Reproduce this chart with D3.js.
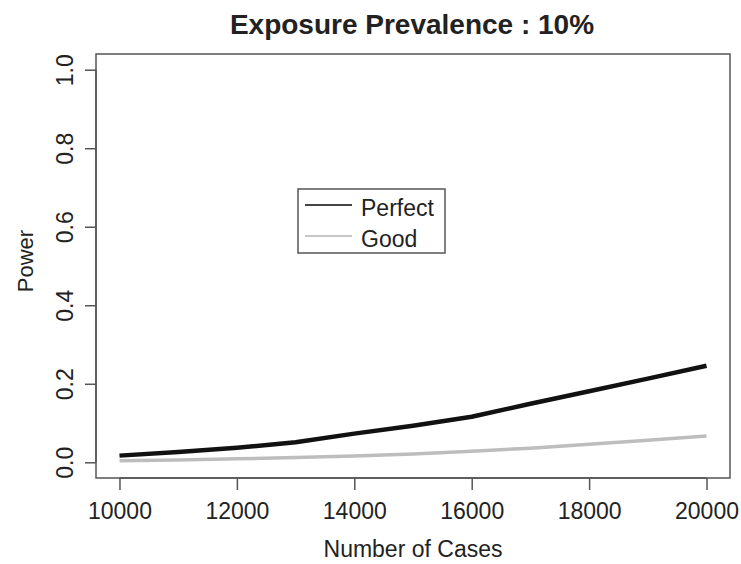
<!DOCTYPE html>
<html>
<head>
<meta charset="utf-8">
<script src="https://cdn.jsdelivr.net/npm/d3@7"></script>
<style>
  html, body { margin: 0; padding: 0; background: #fff; }
  svg text { font-family: "Liberation Sans", Arial, Helvetica, sans-serif; fill: #222; }
</style>
</head>
<body>
<svg id="chart"></svg>
<script>
// data
var cases = [10000, 11000, 12000, 13000, 14000, 15000, 16000, 17000, 18000, 19000, 20000];
var perfect = [0.017, 0.026, 0.037, 0.051, 0.073, 0.093, 0.116, 0.149, 0.181, 0.213, 0.246];
var good = [0.004, 0.006, 0.009, 0.012, 0.016, 0.021, 0.028, 0.036, 0.046, 0.056, 0.067];
var xTicks = [10000, 12000, 14000, 16000, 18000, 20000];
var yTicks = [0.0, 0.2, 0.4, 0.6, 0.8, 1.0];
var seriesNames = ["Perfect", "Good"];
var seriesColors = ["#111111", "#bdbdbd"];

var width = 741, height = 564;
var box = { left: 96, right: 730, top: 54, bottom: 478 };
var fontSize = "23px";

var svg = d3.select("#chart").attr("width", width).attr("height", height);

// R style: pad range 4% each side
var x = d3.scaleLinear()
    .domain([10000 - 400, 20000 + 400])
    .range([box.left, box.right]);
var y = d3.scaleLinear()
    .domain([-0.04, 1.04])
    .range([box.bottom, box.top]);

var axisColor = "#555";

// plot frame
svg.append("rect")
    .attr("x", box.left)
    .attr("y", box.top)
    .attr("width", box.right - box.left)
    .attr("height", box.bottom - box.top)
    .attr("fill", "none")
    .attr("stroke", axisColor)
    .attr("stroke-width", 1.5);

// x axis
var xAxis = svg.append("g")
    .attr("transform", "translate(0," + box.bottom + ")")
    .call(d3.axisBottom(x).tickValues(xTicks).tickSize(12).tickFormat(d3.format("d")));
xAxis.select(".domain")
    .attr("d", "M" + x(xTicks[0]) + ",0H" + x(xTicks[xTicks.length - 1]))
    .attr("stroke", axisColor).attr("stroke-width", 1.5);
xAxis.selectAll(".tick line").attr("stroke", axisColor).attr("stroke-width", 1.5);
xAxis.selectAll(".tick text")
    .style("font-size", fontSize)
    .attr("fill", "#222")
    .attr("y", 41)
    .attr("dy", 0);

// y axis
var yAxis = svg.append("g")
    .attr("transform", "translate(" + box.left + ",0)")
    .call(d3.axisLeft(y).tickValues(yTicks).tickSize(11).tickFormat(d3.format(".1f")));
yAxis.select(".domain")
    .attr("d", "M0," + y(yTicks[0]) + "V" + y(yTicks[yTicks.length - 1]))
    .attr("stroke", axisColor).attr("stroke-width", 1.5);
yAxis.selectAll(".tick line").attr("stroke", axisColor).attr("stroke-width", 1.5);
yAxis.selectAll(".tick text")
    .style("font-size", fontSize)
    .attr("fill", "#222")
    .attr("x", 0)
    .attr("dy", 0)
    .attr("text-anchor", "middle")
    .attr("transform", "translate(-23,0) rotate(-90)");

// lines
var line = d3.line()
    .x(function (d) { return x(d[0]); })
    .y(function (d) { return y(d[1]); });

var seriesData = [perfect, good];
var seriesWidths = [4.5, 3.5];
[1, 0].forEach(function (i) {
    svg.append("path")
        .datum(cases.map(function (c, j) { return [c, seriesData[i][j]]; }))
        .attr("fill", "none")
        .attr("stroke", seriesColors[i])
        .attr("stroke-width", seriesWidths[i])
        .attr("stroke-linejoin", "round")
        .attr("d", line);
});

// title and axis labels
svg.append("text")
    .attr("x", 412)
    .attr("y", 34)
    .attr("text-anchor", "middle")
    .style("font-size", "28px")
    .style("font-weight", "bold")
    .text("Exposure Prevalence : 10%");

svg.append("text")
    .attr("x", 413)
    .attr("y", 557)
    .attr("text-anchor", "middle")
    .style("font-size", fontSize)
    .text("Number of Cases");

svg.append("text")
    .attr("transform", "translate(33,261) rotate(-90)")
    .attr("text-anchor", "middle")
    .style("font-size", "22px")
    .text("Power");

// legend
var legend = svg.append("g").attr("transform", "translate(298,189)");
legend.append("rect")
    .attr("width", 147)
    .attr("height", 64)
    .attr("fill", "#fff")
    .attr("stroke", axisColor)
    .attr("stroke-width", 1.5);
seriesNames.forEach(function (name, i) {
    var ly = 16 + i * 31;
    legend.append("line")
        .attr("x1", 7).attr("x2", 54)
        .attr("y1", ly).attr("y2", ly)
        .attr("stroke", i === 0 ? "#444" : "#c8c8c8")
        .attr("stroke-width", 1.8);
    legend.append("text")
        .attr("x", 63)
        .attr("y", ly + 11)
        .style("font-size", fontSize)
        .text(name);
});
</script>
</body>
</html>
